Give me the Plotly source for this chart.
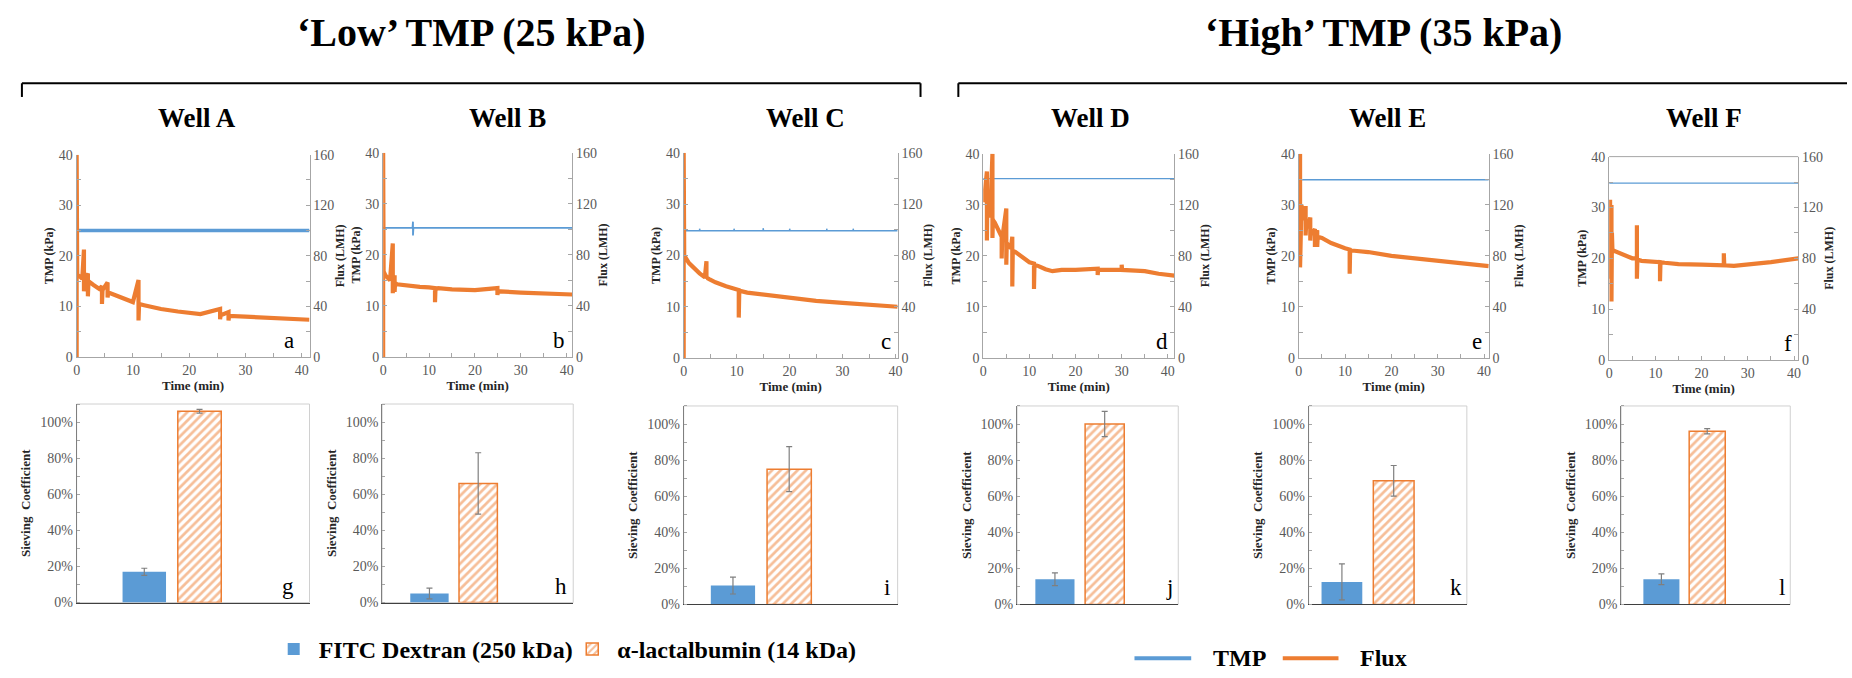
import plotly.graph_objects as go

W, H = 1852, 678
BLUE = "#5B9BD5"
ORANGE = "#ED7D31"
FONT = "Liberation Serif"
TICKC = "#595959"
AXC = "#A6A6A6"

# ---------------- data ----------------
wells = ["Well A", "Well B", "Well C", "Well D", "Well E", "Well F"]
line_letters = ["a", "b", "c", "d", "e", "f"]
bar_letters = ["g", "h", "i", "j", "k", "l"]
group_titles = ["\u2018Low\u2019 TMP (25 kPa)", "\u2018High\u2019 TMP (35 kPa)"]
x_tick_vals = [0, 10, 20, 30, 40]
tmp_tick_vals = [0, 10, 20, 30, 40]
flux_tick_vals = [0, 40, 80, 120, 160]
sc_tick_vals = [0, 0.2, 0.4, 0.6, 0.8, 1.0]

# TMP (kPa) vs time (min)
tmp_a_t = [0, 10, 20, 30, 41.4]
tmp_a = [25.0, 25.0, 25.0, 25.0, 25.0]
tmp_b_t = [0, 6.4, 6.5, 6.5, 6.6, 20, 41.2]
tmp_b = [25.3, 25.3, 26.5, 23.8, 25.3, 25.3, 25.3]
tmp_c_t = [0, 3, 3, 3.1, 9.5, 9.5, 9.6, 15, 15, 15.1, 20, 20, 20.1, 27, 27, 27.1, 32, 32, 32.1, 40.4]
tmp_c = [24.8, 24.8, 25.2, 24.8, 24.8, 25.2, 24.8, 24.8, 25.3, 24.8, 24.8, 25.2, 24.8, 24.8, 25.2, 24.8, 24.8, 25.2, 24.8, 24.8]
tmp_d_t = [0, 10, 20, 30, 41.4]
tmp_d = [35.1, 35.1, 35.1, 35.1, 35.1]
tmp_e_t = [0, 10, 20, 30, 41.0]
tmp_e = [34.9, 34.9, 34.9, 34.9, 34.9]
tmp_f_t = [0, 10, 20, 30, 40.9]
tmp_f = [34.8, 34.8, 34.8, 34.8, 34.8]

# Flux (LMH) vs time (min)
flux_a_t = [0, 0, 0.1, 0.5, 1.0, 1.3, 1.3, 1.4, 2.0, 2.0, 2.1, 3.0, 4.0, 4.5, 4.5, 4.6, 5.5, 5.5, 5.6,
            6.0, 8.0, 10.0, 11.0, 11.0, 11.1, 12.0, 15.0, 18.0, 20.0, 22.0, 25.5, 25.5, 25.6, 27.0, 27.0,
            27.1, 30.0, 33.0, 36.0, 39.0, 41.4]
flux_a = [0, 160, 65, 64, 62, 85, 52, 61, 66, 48, 60, 57, 54, 56, 42, 53, 59, 47, 51,
          50.5, 47, 43.5, 61, 29, 42, 41, 38, 36, 35, 34, 38, 30, 33, 35.5, 29, 32.5,
          32, 31.5, 31, 30, 29.5]
flux_b_t = [0, 0, 0.1, 0.5, 1.0, 1.5, 2.1, 2.1, 2.2, 2.5, 2.5, 2.6, 3.0, 5.0, 8.0, 10.0, 11.3, 11.3, 11.4,
            12.0, 15.0, 20.0, 24.9, 24.9, 25.0, 30.0, 35.0, 41.2]
flux_b = [0, 160, 67, 64, 62, 60, 89, 50, 60, 64, 51, 58, 57, 56, 55, 54.5, 54, 43, 53,
          54, 53, 52.5, 54, 48.5, 51.5, 50.5, 49.5, 49]
flux_c_t = [0, 0, 0.1, 1.0, 2.0, 3.0, 4.0, 4.3, 4.3, 4.4, 5.0, 6.0, 8.0, 10.0, 10.4, 10.4, 10.5,
            12.0, 15.0, 20.0, 25.0, 30.0, 35.0, 40.4]
flux_c = [0, 160, 80, 74, 69.5, 66, 63, 75.5, 62, 62.5, 61, 59, 56, 53.5, 53, 31.5, 52.5,
          51, 49.5, 46.5, 44.5, 43, 41.5, 40]
flux_d_t = [0, 0.3, 0.8, 0.8, 0.9, 1.2, 1.5, 2.0, 2.0, 2.1, 2.5, 3.0, 4.0, 4.0, 4.1, 5.0, 5.0, 5.1, 6.0,
            6.3, 6.3, 6.4, 7.0, 8.5, 10.0, 11.0, 11.0, 11.1, 12.0, 13.5, 15.0, 17.0, 20.0, 24.5, 24.8,
            24.8, 24.9, 28.0, 30.0, 30.0, 30.1, 33.0, 35.0, 38.0, 41.4]
flux_d = [122, 128, 146, 92, 126, 118, 110, 160, 94, 108, 106, 102, 95, 78, 93, 117, 73, 90, 86,
          95, 56, 84, 83, 79, 75, 74, 54, 73, 72, 69.5, 68, 69, 69, 70, 70,
          65, 69, 69, 69, 73, 69, 68.5, 68, 66, 64.5]
flux_e_t = [0, 0.3, 0.3, 0.4, 0.6, 1.0, 1.5, 1.5, 1.6, 2.0, 2.5, 2.5, 2.6, 3.0, 3.5, 3.5, 3.6, 4.0, 4.0,
            4.1, 5.0, 7.0, 10.0, 11.0, 11.0, 11.1, 12.0, 15.0, 20.0, 25.0, 30.0, 35.0, 38.0, 41.0]
flux_e = [104, 160, 71, 112, 120, 108, 119, 96, 104, 102, 110, 92, 99, 98, 101, 87, 96, 100, 87,
          95, 94, 90, 86, 85, 66, 84, 84, 83, 80, 78, 76, 74, 73, 72]
flux_f_t = [0, 0.2, 0.2, 0.3, 0.5, 0.5, 0.6, 0.7, 1.0, 3.0, 5.0, 6.0, 6.0, 6.0, 6.1, 7.0, 10.0, 11.0,
            11.0, 11.1, 12.0, 15.0, 20.0, 24.8, 24.8, 24.9, 27.0, 30.0, 35.0, 40.9]
flux_f = [110, 126, 64, 118, 122, 46, 100, 87, 86, 83, 80, 80, 106, 64, 79, 78, 77, 77,
          62, 77, 76.5, 75.5, 75, 74.5, 84, 74.5, 74, 75, 77, 80]

# Sieving coefficients (fraction) and error bars
fitc = [0.17, 0.05, 0.105, 0.14, 0.125, 0.14]
fitc_err = [0.02, 0.03, 0.047, 0.035, 0.10, 0.03]
alac = [1.06, 0.66, 0.75, 1.00, 0.685, 0.96]
alac_err = [0.01, 0.17, 0.125, 0.07, 0.085, 0.015]

tmp_series = [(tmp_a_t, tmp_a), (tmp_b_t, tmp_b), (tmp_c_t, tmp_c),
              (tmp_d_t, tmp_d), (tmp_e_t, tmp_e), (tmp_f_t, tmp_f)]
flux_series = [(flux_a_t, flux_a), (flux_b_t, flux_b), (flux_c_t, flux_c),
               (flux_d_t, flux_d), (flux_e_t, flux_e), (flux_f_t, flux_f)]

# ---------------- layout geometry (pixels) ----------------
LINE_BOX = [(73, 307, 151, 358), (381, 571, 149, 358), (683, 898, 149, 359),
            (984, 1176, 150, 359), (1301, 1492, 150, 359), (1613, 1803, 153, 361)]
BAR_BOX = [(73, 307, 406, 609), (380, 572, 406, 609), (683, 898, 408, 611),
           (1018, 1180, 408, 611), (1311, 1470, 408, 611), (1625, 1795, 408, 611)]
BAR_XRANGE = [(-0.495, 0.715), (-0.422, 0.703), (-0.395, 0.697),
              (-0.362, 0.568), (-0.328, 0.549), (-0.396, 0.664)]
X_MAX = [41.4, 41.2, 40.4, 41.4, 41.0, 40.9]
TMP_W = [3.6, 1.8, 1.4, 1.3, 1.3, 1.3]
WELL_TITLE_X = [194, 506, 805, 1092, 1390, 1708]
LINE_LETTER_X = [0.94, 0.975, 0.98, 0.975, 0.975, 0.975]
BAR_LETTER_X = [0.94, 0.98, 0.975, 0.98, 0.98, 0.98]


def sfx(n):
    return "" if n == 1 else str(n)


def fx(p):
    return p / W


def fy(p):
    return 1 - p / H


fig = go.Figure()
layout = {}
annotations = []
shapes = []

tickfont = dict(family=FONT, size=14, color=TICKC)
titlefont = dict(family=FONT, size=12, color="#262626", weight="bold")

for k in range(6):
    x0, x1, yt, yb = LINE_BOX[k]
    nx, nyl, nyr = k + 1, k + 1, k + 7
    tt, tv = tmp_series[k]
    ft, fv = flux_series[k]
    fig.add_trace(go.Scatter(x=tt, y=tv, mode="lines", name="TMP",
                             line=dict(color=BLUE, width=TMP_W[k]),
                             xaxis="x" + sfx(nx), yaxis="y" + sfx(nyl), showlegend=False))
    fig.add_trace(go.Scatter(x=ft, y=fv, mode="lines", name="Flux",
                             line=dict(color=ORANGE, width=4.2),
                             xaxis="x" + sfx(nx), yaxis="y" + sfx(nyr), showlegend=False))
    layout["xaxis" + sfx(nx)] = dict(
        domain=[fx(x0), fx(x1)], anchor="y" + sfx(nyl), range=[0, X_MAX[k]],
        tickvals=x_tick_vals, ticks="inside", ticklen=4, tickcolor=AXC,
        minor=dict(dtick=5, ticks="inside", ticklen=4, tickcolor=AXC),
        showline=True, linecolor=AXC, linewidth=1, showgrid=False, zeroline=False,
        tickfont=tickfont, title=dict(text="Time (min)", font=dict(titlefont, size=13), standoff=4))
    layout["yaxis" + sfx(nyl)] = dict(
        domain=[fy(yb), fy(yt)], anchor="x" + sfx(nx), range=[0, 40],
        tickvals=tmp_tick_vals, ticks="inside", ticklen=4, tickcolor=AXC,
        minor=dict(dtick=5, ticks="inside", ticklen=4, tickcolor=AXC),
        showline=True, linecolor=AXC, linewidth=1, showgrid=False, zeroline=False,
        tickfont=tickfont, title=dict(text="TMP (kPa)", font=titlefont, standoff=2))
    layout["yaxis" + sfx(nyr)] = dict(
        overlaying="y" + sfx(nyl), side="right", anchor="x" + sfx(nx), range=[0, 160],
        tickvals=flux_tick_vals, ticks="inside", ticklen=4, tickcolor=AXC,
        minor=dict(dtick=20, ticks="inside", ticklen=4, tickcolor=AXC),
        showline=True, linecolor=AXC, linewidth=1, showgrid=False, zeroline=False,
        tickfont=tickfont, title=dict(text="Flux (LMH)", font=titlefont, standoff=2))
    if k == 5:
        shapes.append(dict(type="line", xref="x6 domain", yref="y6 domain",
                           x0=0, x1=1, y0=1, y1=1, line=dict(color=AXC, width=1)))
    annotations.append(dict(text=line_letters[k], xref="x" + sfx(nx) + " domain",
                            yref="y" + sfx(nyl) + " domain", x=LINE_LETTER_X[k], y=0.01,
                            xanchor="right", yanchor="bottom", showarrow=False,
                            font=dict(family=FONT, size=23, color="black")))
    annotations.append(dict(text=wells[k], xref="paper", yref="paper",
                            x=fx(WELL_TITLE_X[k]), y=fy(114), xanchor="center", yanchor="middle",
                            showarrow=False, font=dict(family=FONT, size=27, color="black", weight="bold")))

for k in range(6):
    x0, x1, yt, yb = BAR_BOX[k]
    nx, ny = k + 7, k + 13
    fig.add_trace(go.Bar(
        x=[wells[k]], y=[fitc[k]], name="FITC Dextran (250 kDa)",
        marker=dict(color=BLUE, line=dict(width=0)),
        error_y=dict(type="data", array=[fitc_err[k]], color="#7F7F7F", thickness=1.2, width=3),
        xaxis="x" + sfx(nx), yaxis="y" + sfx(ny), showlegend=(k == 0), legend="legend"))
    fig.add_trace(go.Bar(
        x=[wells[k]], y=[alac[k]], name="\u03b1-lactalbumin (14 kDa)",
        marker=dict(color="white",
                    pattern=dict(shape="/", fgcolor=ORANGE, bgcolor="white", size=6, solidity=0.45),
                    line=dict(color=ORANGE, width=1.5)),
        error_y=dict(type="data", array=[alac_err[k]], color="#7F7F7F", thickness=1.2, width=3),
        xaxis="x" + sfx(nx), yaxis="y" + sfx(ny), showlegend=(k == 0), legend="legend2"))
    layout["xaxis" + sfx(nx)] = dict(
        domain=[fx(x0), fx(x1)], anchor="y" + sfx(ny), type="category", range=list(BAR_XRANGE[k]),
        showticklabels=False, ticks="", showline=True, linecolor="#404040", linewidth=1,
        showgrid=False, zeroline=False)
    layout["yaxis" + sfx(ny)] = dict(
        domain=[fy(yb), fy(yt)], anchor="x" + sfx(nx), range=[0, 1.1],
        tickvals=sc_tick_vals, tickformat=".0%", ticks="",
        minor=dict(dtick=0.1, ticks="inside", ticklen=3, tickcolor=AXC),
        showline=True, linecolor="#7F7F7F", linewidth=1, showgrid=False, zeroline=False,
        tickfont=tickfont,
        title=dict(text="Sieving  Coefficient",
                   font=dict(family=FONT, size=13, color="#262626", weight="bold"), standoff=6))
    shapes.append(dict(type="rect", xref="x" + sfx(nx) + " domain", yref="y" + sfx(ny) + " domain",
                       x0=0, x1=1, y0=0, y1=1, line=dict(color="#D0D0D0", width=1), layer="below"))
    annotations.append(dict(text=bar_letters[k], xref="x" + sfx(nx) + " domain",
                            yref="y" + sfx(ny) + " domain", x=BAR_LETTER_X[k], y=0.01,
                            xanchor="right", yanchor="bottom", showarrow=False,
                            font=dict(family=FONT, size=23, color="black")))

# group titles and brackets
annotations.append(dict(text=group_titles[0], xref="paper", yref="paper", x=fx(470), y=fy(26),
                        xanchor="center", yanchor="middle", showarrow=False,
                        font=dict(family=FONT, size=40, color="black", weight="bold")))
annotations.append(dict(text=group_titles[1], xref="paper", yref="paper", x=fx(1386), y=fy(26),
                        xanchor="center", yanchor="middle", showarrow=False,
                        font=dict(family=FONT, size=40, color="black", weight="bold")))
for (a, b, right_tick) in [(18, 921, True), (959, 1852, False)]:
    shapes.append(dict(type="line", xref="paper", yref="paper", x0=fx(a), x1=fx(b), y0=fy(78), y1=fy(78),
                       line=dict(color="black", width=2)))
    shapes.append(dict(type="line", xref="paper", yref="paper", x0=fx(a), x1=fx(a), y0=fy(78), y1=fy(92),
                       line=dict(color="black", width=2)))
    if right_tick:
        shapes.append(dict(type="line", xref="paper", yref="paper", x0=fx(b), x1=fx(b), y0=fy(78), y1=fy(92),
                           line=dict(color="black", width=2)))

# line legend (TMP / Flux)
for (a, b, col, label, tx) in [(1136, 1193, BLUE, "TMP", 1213), (1285, 1341, ORANGE, "Flux", 1361)]:
    shapes.append(dict(type="line", xref="paper", yref="paper", x0=fx(a), x1=fx(b), y0=fy(666), y1=fy(666),
                       line=dict(color=col, width=4)))
    annotations.append(dict(text=label, xref="paper", yref="paper", x=fx(tx), y=fy(666),
                            xanchor="left", yanchor="middle", showarrow=False,
                            font=dict(family=FONT, size=24, color="black", weight="bold")))

legfont = dict(family=FONT, size=24, color="black", weight="bold")
fig.update_layout(
    width=W, height=H, margin=dict(l=0, r=0, t=0, b=0),
    paper_bgcolor="white", plot_bgcolor="white",
    font=dict(family=FONT),
    barmode="group", bargap=0.426, bargroupgap=0.213,
    showlegend=True,
    legend=dict(orientation="h", x=fx(266), y=fy(657), xanchor="left", yanchor="middle",
                font=legfont, bgcolor="rgba(0,0,0,0)", itemwidth=40),
    legend2=dict(orientation="h", x=fx(566), y=fy(657), xanchor="left", yanchor="middle",
                 font=legfont, bgcolor="rgba(0,0,0,0)", itemwidth=40),
    annotations=annotations, shapes=shapes,
    **layout)

fig.write_html("out.html")
